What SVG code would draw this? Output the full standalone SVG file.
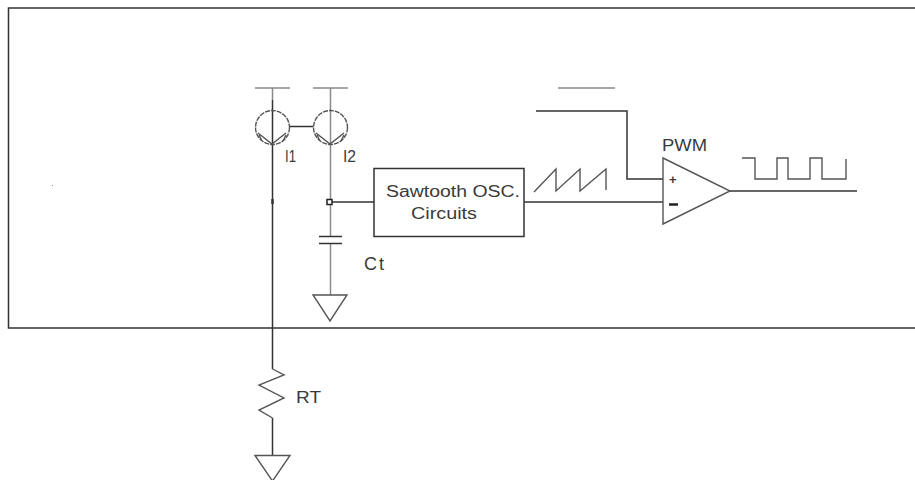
<svg xmlns="http://www.w3.org/2000/svg" width="915" height="480" viewBox="0 0 915 480">
<style>
.d{fill:none;stroke:#333;stroke-width:1.5}
.g{fill:none;stroke:#8a8a8a;stroke-width:1.5}
.m{fill:none;stroke:#555;stroke-width:1.400}
text{font-family:"Liberation Sans",Arial,sans-serif;fill:#3a3a3a;font-size:16px}
</style>
<rect width="915" height="480" fill="#fff"/>
<g id="frame"><path class="d" d="M915 8H8.500V328H915"/></g>
<g id="connectors">
<path class="d" d="M272.500 100V369"/>
<path class="g" d="M272.500 88V100"/>
<path class="d" d="M290 126.500H313"/>
<path class="g" d="M330.500 88V202"/>
<path class="g" d="M330.500 202V236M330.500 243V295"/>
<path class="d" d="M330 202H374"/>
<path class="d" d="M524 202H663"/>
<path class="d" d="M536 111H627V179H663"/>
<path class="d" d="M730 191H857"/>
<path class="d" d="M272.500 418V455"/>
<path class="g" d="M558 88H615"/>
</g>
<g id="I1"><circle class="m" cx="272.500" cy="127.500" r="17" stroke-dasharray="5 1"/><path class="g" d="M255 88H290"/><path class="m" d="M258 133L272 144L286 133M262 141L259 135M283 141L286 135"/><text x="285" y="162" textLength="11" lengthAdjust="spacingAndGlyphs">I1</text></g>
<g id="I2"><circle class="m" cx="330.500" cy="127.500" r="17" stroke-dasharray="5 1"/><path class="g" d="M313 88H348"/><path class="m" d="M316 133L330 144L344 133M320 141L317 135M341 141L344 135"/><text x="343" y="162" textLength="13" lengthAdjust="spacingAndGlyphs">I2</text></g>
<g id="junction"><rect x="327" y="199.500" width="5" height="5" fill="#fff" stroke="#222" stroke-width="1.500"/><path d="M272.500 199V204" stroke="#333" stroke-width="2.500"/></g>
<g id="osc"><rect class="d" x="374" y="168.500" width="150" height="68"/><text x="386" y="197" textLength="134" lengthAdjust="spacingAndGlyphs">Sawtooth OSC.</text><text x="411" y="219" textLength="66" lengthAdjust="spacingAndGlyphs">Circuits</text></g>
<g id="Ct"><path class="d" d="M319 236.500H342M319 243.500H342"/><text x="364" y="270" style="font-size:18px;letter-spacing:2px" textLength="22" lengthAdjust="spacingAndGlyphs">Ct</text></g>
<g id="gnd1"><path class="m" d="M313 295H347L330 321Z"/></g>
<g id="RT"><path class="m" d="M272.500 369L284 375L259 385L284 398L259 410L272.500 418"/><text x="296" y="403" textLength="25" lengthAdjust="spacingAndGlyphs">RT</text></g>
<g id="gnd2"><path class="m" d="M255 455.500H290L272.500 481Z"/></g>
<g id="pwm"><path class="m" d="M663 158V224L730 191Z"/><text x="662" y="151" textLength="45" lengthAdjust="spacingAndGlyphs">PWM</text><text x="669" y="184" style="font-size:13px;font-weight:bold">+</text><path d="M669 204.500H678" stroke="#222" stroke-width="2.500"/></g>
<g id="sawtooth"><path class="m" d="M534 192L556 169V191L580 169V191L606 169V190"/></g>
<g id="pulse"><path class="m" d="M742 158H755V179H777V158H788V179H810V158H822V179H846V159"/></g>
<g id="dot"><rect x="52" y="185" width="1" height="1" fill="#888"/></g>
</svg>
